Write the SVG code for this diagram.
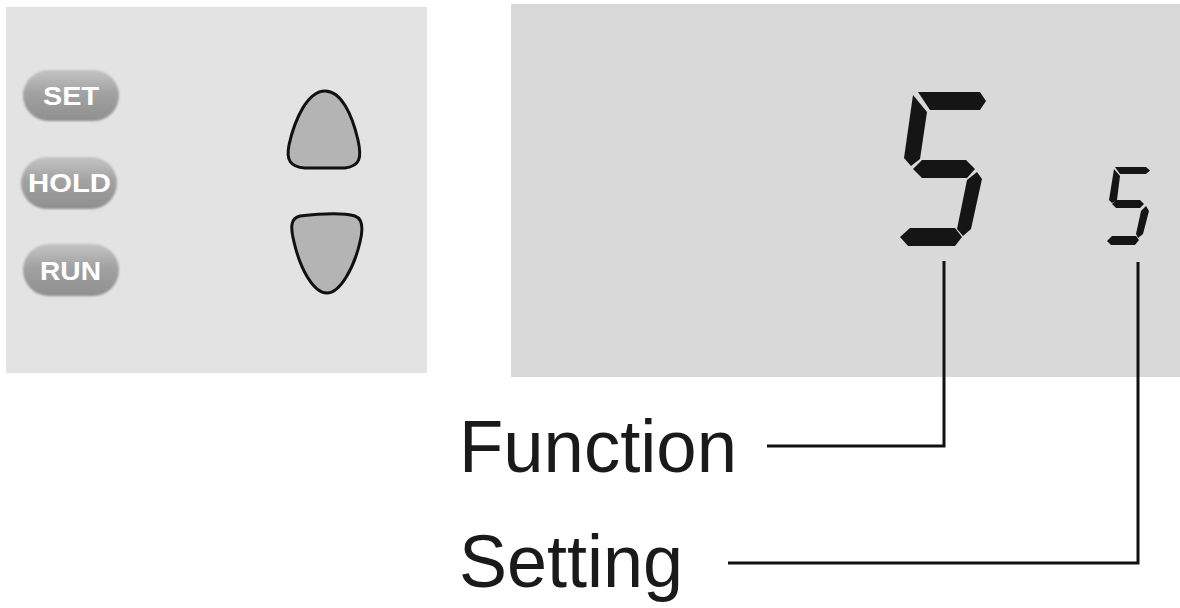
<svg xmlns="http://www.w3.org/2000/svg" width="1180" height="608" viewBox="0 0 1180 608">
  <defs>
    <linearGradient id="pill" x1="0" y1="0" x2="0" y2="1">
      <stop offset="0" stop-color="#c4c4c4"/>
      <stop offset="0.45" stop-color="#a2a2a2"/>
      <stop offset="1" stop-color="#8f8f8f"/>
    </linearGradient>
    <filter id="soft" x="-10%" y="-10%" width="120%" height="120%">
      <feGaussianBlur stdDeviation="1.2"/>
    </filter>
    <style>
      .pill { fill: url(#pill); filter: url(#soft); }
      .btxt { font-family: "Liberation Sans", Arial, sans-serif; font-weight: bold; font-size: 25px; fill: #ffffff; }
      .arrow { fill: #b4b4b4; stroke: #111111; stroke-width: 3; stroke-linejoin: round; }
      .seg { fill: #151515; }
      .lbl { font-family: "Liberation Sans", Arial, sans-serif; font-size: 74px; fill: #1a1a1a; }
      .conn { fill: none; stroke: #111111; stroke-width: 3; }
    </style>
  </defs>
  <rect width="1180" height="608" fill="#ffffff"/>

  <g id="keypad-panel">
    <rect x="6" y="7" width="421" height="366" fill="#e3e3e3"/>
  </g>
  <g id="btn-set">
    <rect class="pill" x="23" y="70" width="96" height="51" rx="25.5"/>
    <text class="btxt" x="43" y="105" textLength="56" lengthAdjust="spacingAndGlyphs">SET</text>
  </g>
  <g id="btn-hold">
    <rect class="pill" x="21" y="157" width="96" height="52" rx="26"/>
    <text class="btxt" x="28" y="192" textLength="83" lengthAdjust="spacingAndGlyphs">HOLD</text>
  </g>
  <g id="btn-run">
    <rect class="pill" x="23" y="244" width="96" height="52" rx="26"/>
    <text class="btxt" x="40" y="280" textLength="61" lengthAdjust="spacingAndGlyphs">RUN</text>
  </g>
  <g id="btn-up">
    <path class="arrow" d="M325,91 C341,91 352,114 358,140 C362,158 360,166 345,168 L305,168 C290,167 286,160 289,145 C295,118 308,91 325,91 Z"/>
  </g>
  <g id="btn-down">
    <path class="arrow" d="M300,216 C325,213 345,213 355,216 C363,219 363,230 360,242 C354,268 340,293 327,293 C313,293 300,268 294,242 C290,226 291,218 300,216 Z"/>
  </g>

  <g id="display-panel">
    <rect x="511" y="4" width="669" height="373" fill="#d8d9d8"/>
  </g>
  <g id="function-digit">
    <polygon class="seg" points="918,92 980,92 986,101 980,110 930,110"/>
    <polygon class="seg" points="913,95 927,112 920,159 911,166 904,158"/>
    <polygon class="seg" points="913,169 922,160 966,160 975,169 967,178 922,178"/>
    <polygon class="seg" points="977,172 982,179 971,229 963,236 957,229 967,180"/>
    <polygon class="seg" points="900,237 910,228 955,228 962,237 955,246 908,246"/>
  </g>
  <g id="setting-digit">
    <polygon class="seg" points="1115,167 1146,167 1150,170.5 1146,174 1120,174"/>
    <polygon class="seg" points="1114,169 1120,176 1117,200 1112,203 1109,200"/>
    <polygon class="seg" points="1112,204 1116,200 1140,200 1144,204 1140,208 1116,208"/>
    <polygon class="seg" points="1146,206 1149,211 1143,234 1138,238 1136,234 1141,211"/>
    <polygon class="seg" points="1107,241 1112,236 1136,236 1139,240 1135,245 1111,245"/>
  </g>

  <g id="connectors">
    <polyline class="conn" points="944,261 944,446 767,446"/>
    <polyline class="conn" points="1138,262 1138,563 728,563"/>
  </g>

  <g id="label-function">
    <text class="lbl" x="459" y="472" textLength="278" lengthAdjust="spacingAndGlyphs">Function</text>
  </g>
  <g id="label-setting">
    <text class="lbl" x="459" y="587" textLength="224" lengthAdjust="spacingAndGlyphs">Setting</text>
  </g>
</svg>
